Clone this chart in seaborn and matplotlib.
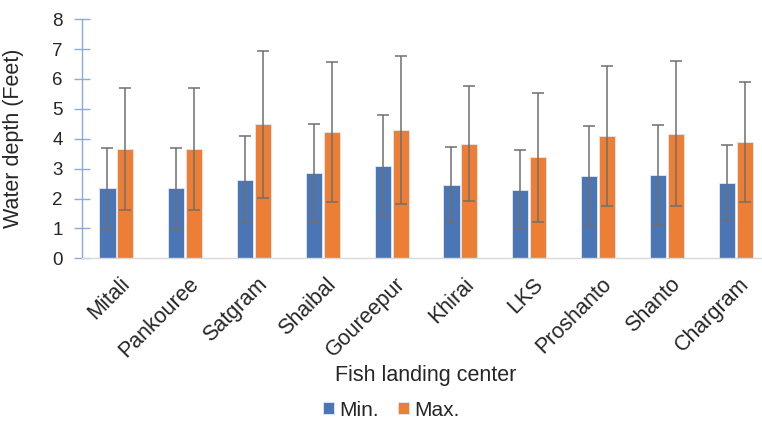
import matplotlib.pyplot as plt
import matplotlib.transforms as mtransforms
import pandas as pd
import seaborn as sns

centers = ["Mitali", "Pankouree", "Satgram", "Shaibal", "Goureepur",
           "Khirai", "LKS", "Proshanto", "Shanto", "Chargram"]
min_depth = [2.34, 2.34, 2.63, 2.84, 3.10, 2.45, 2.29, 2.74, 2.78, 2.52]
min_sd = [1.35, 1.35, 1.45, 1.64, 1.70, 1.27, 1.32, 1.67, 1.67, 1.28]
max_depth = [3.66, 3.66, 4.48, 4.23, 4.30, 3.83, 3.38, 4.10, 4.17, 3.89]
max_sd = [2.04, 2.04, 2.47, 2.35, 2.48, 1.92, 2.15, 2.34, 2.43, 2.00]

sns.set_style("white")
plt.rcParams["font.family"] = ["Liberation Sans", "DejaVu Sans"]
text_col = "#262626"

df = pd.DataFrame({
    "center": centers * 2,
    "depth": min_depth + max_depth,
    "stat": ["Min."] * len(centers) + ["Max."] * len(centers),
})

fig = plt.figure(figsize=(7.62, 4.21), dpi=100)
ax = fig.add_axes([0.1076, 0.3865, 0.903, 0.568])

sns.barplot(data=df, x="center", y="depth", hue="stat",
            palette=["#4A76B5", "#EC7E35"], saturation=1,
            width=0.52, gap=0.1, errorbar=None,
            edgecolor="#e3e9f2", linewidth=0.6, ax=ax)

for cont, sd in zip(ax.containers, [min_sd, max_sd]):
    xs = [p.get_x() + p.get_width() / 2 for p in cont.patches]
    ys = [p.get_height() for p in cont.patches]
    ax.errorbar(xs, ys, yerr=sd, fmt="none", ecolor="#6f6f6f",
                elinewidth=1.1, capsize=4, capthick=1.1, zorder=4)

ax.set_ylim(0, 8)
ax.set_xlim(-0.5, 9.5)
ax.set_yticks(range(0, 9))
ax.tick_params(axis="y", left=True, direction="inout", length=12, width=1,
               color="#8eaadb", labelsize=13.5, labelcolor=text_col, pad=8)
ax.tick_params(axis="x", length=0, labelsize=15.5, labelcolor=text_col, pad=11)
shift = mtransforms.ScaledTranslation(3 / 100, 0, fig.dpi_scale_trans)
for lab in ax.get_xticklabels():
    lab.set_rotation(45)
    lab.set_ha("right")
    lab.set_rotation_mode("anchor")
    lab.set_transform(lab.get_transform() + shift)

for s in ["top", "right"]:
    ax.spines[s].set_visible(False)
ax.spines["left"].set_color("#8eaadb")
ax.spines["left"].set_linewidth(1)
ax.spines["bottom"].set_color("#d9d9d9")
ax.spines["bottom"].set_linewidth(1)

ax.set_ylabel("Water depth (Feet)", fontsize=15.5, color=text_col)
ax.yaxis.set_label_coords(-0.084, 0.5)
ax.set_xlabel("Fish landing center", fontsize=15.5, color=text_col)
ax.xaxis.set_label_coords(0.5, -0.445)

handles, labels = ax.get_legend_handles_labels()
ax.legend(handles, labels, ncol=2, frameon=False, fontsize=15,
          loc="center", bbox_to_anchor=(391.5 / 762, 1 - 410 / 421),
          bbox_transform=fig.transFigure, handlelength=0.55,
          handleheight=0.55, handletextpad=0.25, columnspacing=0.9,
          labelcolor=text_col)

plt.savefig("out.png", dpi=100)
